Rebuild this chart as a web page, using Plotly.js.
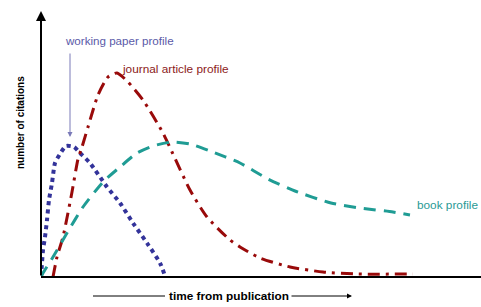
<!DOCTYPE html>
<html>
<head>
<meta charset="utf-8">
<script src="https://cdn.plot.ly/plotly-3.0.1.min.js"></script>
<style>html,body{margin:0;padding:0;background:#fff;}#chart{width:481px;height:307px;}</style>
</head>
<body>
<div id="chart"></div>
<script>
// Schematic citation profiles (arbitrary units: time from publication, number of citations)
const workingTime = [0, 1, 2, 4, 6, 8, 11, 14, 19, 25, 33, 39, 49, 66, 79, 92, 106, 119, 124];
const workingCites = [0, 14, 27, 40, 57, 77, 94, 114, 123, 131, 130, 124, 114, 90, 74, 54, 34, 14, 1];

const journalTime = [12, 16, 22, 31, 37, 41, 47, 57, 67, 76, 87, 102, 122, 131, 149, 166, 189, 199, 219, 249, 282, 316, 372];
const journalCites = [0, 20, 40, 85, 118, 130, 150, 182, 200, 204, 195, 177, 144, 125, 87, 60, 37, 30, 19, 10, 5, 3, 3];

const bookTime = [0, 2, 12, 26, 42, 62, 79, 96, 112, 131, 149, 169, 199, 227, 254, 290, 319, 352, 369];
const bookCites = [0, 4, 20, 44, 70, 95, 110, 124, 131, 135, 133, 126, 114, 98, 86, 74, 69, 65, 62];

const labels = {
  working: 'working paper profile',
  journal: 'journal article profile',
  book: 'book profile',
  yTitle: 'number of citations',
  xTitle: 'time from publication'
};

const FONT = 'Liberation Sans, Arial, sans-serif';

const traces = [
  {x: workingTime, y: workingCites, mode: 'lines', line: {color: '#33339a', width: 4, dash: '4px,4px', shape: 'spline', smoothing: 0.6}, hoverinfo: 'skip'},
  {x: journalTime, y: journalCites, mode: 'lines', line: {color: '#990a0a', width: 3, dash: '12px,6px,3px,6px', shape: 'spline', smoothing: 0.6}, hoverinfo: 'skip'},
  {x: bookTime, y: bookCites, mode: 'lines', line: {color: '#1f9c94', width: 3, dash: '12px,8px', shape: 'spline', smoothing: 0.6}, hoverinfo: 'skip'}
];

const px2paperX = function(px){ return (px - 41) / 440; };
const py2paperY = function(py){ return (277 - py) / 277; };

const layout = {
  width: 481, height: 307,
  margin: {l: 41, r: 0, t: 0, b: 30},
  paper_bgcolor: '#ffffff', plot_bgcolor: '#ffffff',
  showlegend: false,
  xaxis: {range: [0, 440], showgrid: false, zeroline: false, showticklabels: false, showline: false, ticks: '', fixedrange: true},
  yaxis: {range: [0, 277], showgrid: false, zeroline: false, showticklabels: false, showline: false, ticks: '', fixedrange: true},
  shapes: [
    {type: 'line', xref: 'paper', yref: 'paper', x0: 0, x1: 1, y0: 0, y1: 0, line: {color: '#000', width: 2}},
    {type: 'line', xref: 'paper', yref: 'paper', x0: px2paperX(93), x1: px2paperX(165), y0: py2paperY(296), y1: py2paperY(296), line: {color: '#000', width: 1}}
  ],
  annotations: [
    {x: 0, y: 266, xref: 'x', yref: 'y', ax: 0, ay: 0, axref: 'x', ayref: 'y', text: '', showarrow: true, arrowhead: 2, arrowsize: 1, arrowwidth: 2, arrowcolor: '#000'},
    {x: px2paperX(352), y: py2paperY(296), xref: 'paper', yref: 'paper', ax: -62, ay: 0, text: '', showarrow: true, arrowhead: 2, arrowsize: 1, arrowwidth: 1, arrowcolor: '#000'},
    {x: px2paperX(229), y: py2paperY(296), xref: 'paper', yref: 'paper', text: '<b>' + labels.xTitle + '</b>', showarrow: false, font: {family: FONT, size: 11.8, color: '#000'}, xanchor: 'center', yanchor: 'middle'},
    {x: px2paperX(20), y: py2paperY(123), xref: 'paper', yref: 'paper', text: '<b>' + labels.yTitle + '</b>', textangle: -90, showarrow: false, font: {family: FONT, size: 10, color: '#000'}, xanchor: 'center', yanchor: 'middle'},
    {x: 22, y: 237, xref: 'x', yref: 'y', text: labels.working, showarrow: false, xanchor: 'left', yanchor: 'middle', font: {family: FONT, size: 11.6, color: '#5a5aa8'}},
    {x: 29, y: 140, xref: 'x', yref: 'y', ax: 29, ay: 225, axref: 'x', ayref: 'y', text: '', showarrow: true, arrowhead: 2, arrowsize: 1, arrowwidth: 1, arrowcolor: '#7a7ab8'},
    {x: 79, y: 208, xref: 'x', yref: 'y', text: labels.journal, showarrow: false, xanchor: 'left', yanchor: 'middle', font: {family: FONT, size: 11.8, color: '#8b1a1a'}},
    {x: 374, y: 72, xref: 'x', yref: 'y', text: labels.book, showarrow: false, xanchor: 'left', yanchor: 'middle', font: {family: FONT, size: 11.8, color: '#2a9a95'}}
  ]
};

Plotly.newPlot('chart', traces, layout, {staticPlot: true, displayModeBar: false});
</script>
</body>
</html>
